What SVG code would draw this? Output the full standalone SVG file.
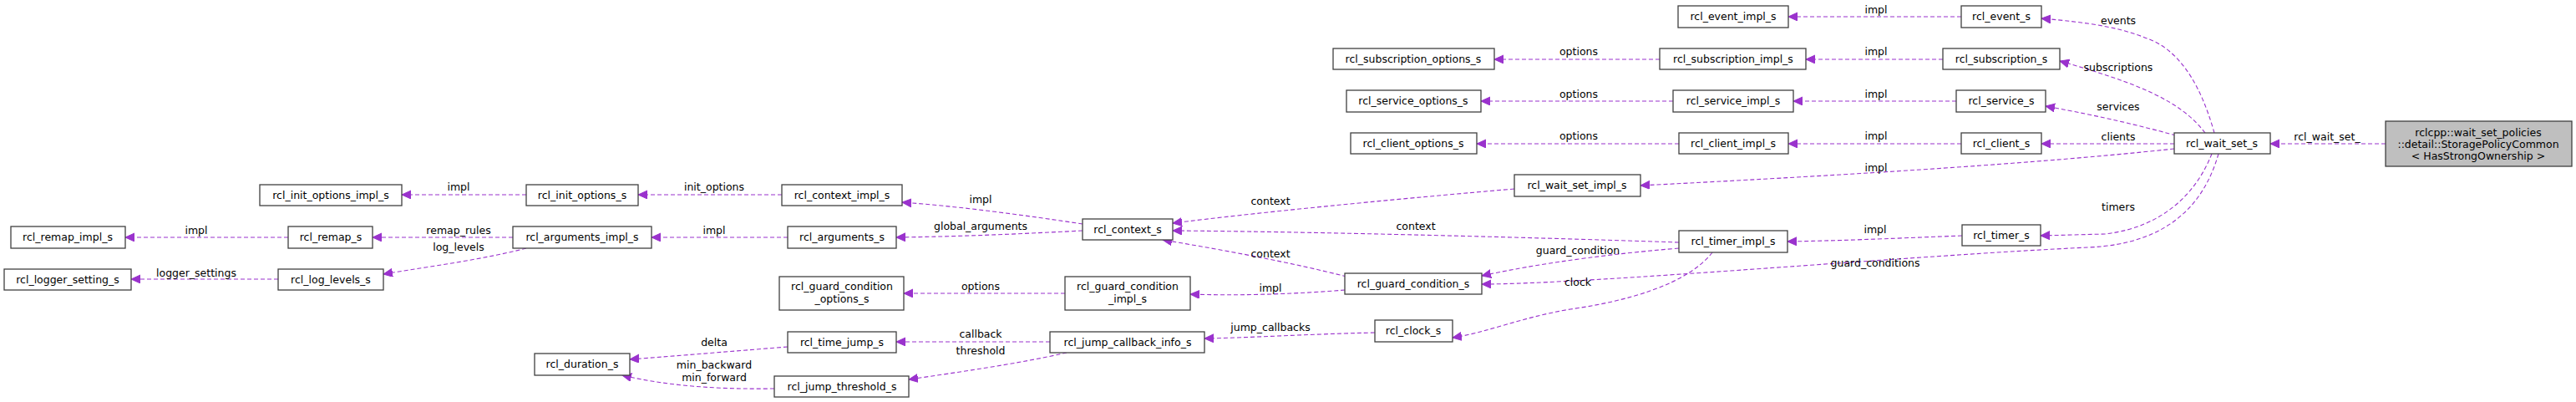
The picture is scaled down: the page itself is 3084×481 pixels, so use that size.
<svg xmlns="http://www.w3.org/2000/svg" width="3084" height="481" viewBox="0 0 3084 481">
<style>
text{font-family:"DejaVu Sans",sans-serif;font-size:12.5px;fill:#000;text-anchor:middle}
.n rect{fill:#fff;stroke:#404040;stroke-width:1.3}
.n rect.h{fill:#bfbfbf}
#edges path{fill:none;stroke:#9a32cd;stroke-width:1.1;stroke-dasharray:5,3;marker-end:url(#ah)}
</style>
<defs>
<marker id="ah" markerUnits="userSpaceOnUse" markerWidth="14" markerHeight="12" refX="11" refY="5" orient="auto">
<path d="M0,0 L11,5 L0,10 z" fill="#9a32cd" stroke="#9a32cd"/>
</marker>
</defs>
<rect width="3084" height="481" fill="#fff"/>
<g id="edges">
<path d="M2856,172 L2718,172"/><text x="2786" y="168">rcl_wait_set_</text>
<path d="M2651,159 C2640,120 2620,70 2580,50 C2540,32 2500,27 2444,22"/><text x="2536" y="29">events</text>
<path d="M2640,159 C2610,120 2560,100 2466,73"/><text x="2536" y="85">subscriptions</text>
<path d="M2605,162 C2560,150 2520,140 2449,127"/><text x="2536" y="132">services</text>
<path d="M2603,172 L2444,172"/><text x="2536" y="168">clients</text>
<path d="M2603,178 C2400,200 2100,215 1964,222"/><text x="2246" y="205">impl</text>
<path d="M2648,184 C2630,230 2590,272 2520,280 L2443,282"/><text x="2536" y="252">timers</text>
<path d="M2656,184 C2640,240 2600,292 2500,296 C2300,305 1900,340 1774,340"/><text x="2245" y="319">guard_conditions</text>
<path d="M2348,20 L2141,20"/><text x="2246" y="16">impl</text>
<path d="M2326,71 L2162,71"/><text x="2246" y="66">impl</text>
<path d="M1987,71 L1789,71"/><text x="1890" y="66">options</text>
<path d="M2342,121 L2147,121"/><text x="2246" y="117">impl</text>
<path d="M2003,121 L1773,121"/><text x="1890" y="117">options</text>
<path d="M2348,172 L2141,172"/><text x="2246" y="167">impl</text>
<path d="M2010,172 L1768,172"/><text x="1890" y="167">options</text>
<path d="M1813,226 C1650,240 1500,255 1404,267"/><text x="1521" y="245">context</text>
<path d="M2010,290 C1800,283 1550,277 1404,276"/><text x="1695" y="275">context</text>
<path d="M2010,297 C1900,306 1820,320 1774,330"/><text x="1889" y="304">guard_condition</text>
<path d="M2050,302 C2020,340 1950,360 1880,370 C1820,380 1780,398 1739,404"/><text x="1889" y="342">clock</text>
<path d="M2349,282 C2250,286 2200,288 2140,289"/><text x="2245" y="279">impl</text>
<path d="M1612,331 C1550,315 1470,300 1392,287"/><text x="1521" y="308">context</text>
<path d="M1610,347 C1550,352 1480,354 1425,352"/><text x="1521" y="349">impl</text>
<path d="M1275,351 L1082,351"/><text x="1174" y="347">options</text>
<path d="M1646,398 C1560,400 1500,404 1442,405"/><text x="1521" y="396">jump_callbacks</text>
<path d="M1257,409 L1073,409"/><text x="1174" y="404">callback</text>
<path d="M1277,422 C1220,435 1150,445 1088,454"/><text x="1174" y="424">threshold</text>
<path d="M943,415 C880,420 820,425 754,430"/><text x="855" y="414">delta</text>
<path d="M927,465 C860,466 800,462 745,449"/><text x="855" y="441">min_backward</text><text x="855" y="456">min_forward</text>
<path d="M1296,268 C1230,258 1150,247 1080,242"/><text x="1174" y="243">impl</text>
<path d="M1296,276 C1220,280 1150,283 1073,284"/><text x="1174" y="275">global_arguments</text>
<path d="M936,233 L764,233"/><text x="855" y="228">init_options</text>
<path d="M630,233 L481,233"/><text x="549" y="228">impl</text>
<path d="M943,284 L780,284"/><text x="855" y="280">impl</text>
<path d="M614,284 L446,284"/><text x="549" y="280">remap_rules</text>
<path d="M630,297 C580,310 520,318 459,328"/><text x="549" y="300">log_levels</text>
<path d="M345,284 L150,284"/><text x="235" y="280">impl</text>
<path d="M333,334 L157,334"/><text x="235" y="331">logger_settings</text>
</g>
<g id="rclcpp" class="n"><rect class="h" x="2856" y="145" width="223" height="54"/><text x="2967" y="163">rclcpp::wait_set_policies</text><text x="2967" y="177">::detail::StoragePolicyCommon</text><text x="2967" y="191">&lt; HasStrongOwnership &gt;</text></g>
<g id="rcl_wait_set_s" class="n"><rect x="2603" y="159" width="115" height="25"/><text x="2660" y="176">rcl_wait_set_s</text></g>
<g id="rcl_event_s" class="n"><rect x="2348" y="7" width="96" height="26"/><text x="2396" y="24">rcl_event_s</text></g>
<g id="rcl_subscription_s" class="n"><rect x="2326" y="58" width="140" height="25"/><text x="2396" y="75">rcl_subscription_s</text></g>
<g id="rcl_service_s" class="n"><rect x="2342" y="108" width="107" height="26"/><text x="2396" y="125">rcl_service_s</text></g>
<g id="rcl_client_s" class="n"><rect x="2348" y="159" width="96" height="25"/><text x="2396" y="176">rcl_client_s</text></g>
<g id="rcl_timer_s" class="n"><rect x="2349" y="269" width="94" height="25"/><text x="2396" y="286">rcl_timer_s</text></g>
<g id="rcl_event_impl_s" class="n"><rect x="2009" y="7" width="132" height="26"/><text x="2075" y="24">rcl_event_impl_s</text></g>
<g id="rcl_subscription_impl_s" class="n"><rect x="1987" y="58" width="175" height="25"/><text x="2075" y="75">rcl_subscription_impl_s</text></g>
<g id="rcl_service_impl_s" class="n"><rect x="2003" y="108" width="144" height="26"/><text x="2075" y="125">rcl_service_impl_s</text></g>
<g id="rcl_client_impl_s" class="n"><rect x="2010" y="159" width="131" height="25"/><text x="2075" y="176">rcl_client_impl_s</text></g>
<g id="rcl_timer_impl_s" class="n"><rect x="2010" y="276" width="130" height="26"/><text x="2075" y="293">rcl_timer_impl_s</text></g>
<g id="rcl_subscription_options_s" class="n"><rect x="1596" y="58" width="193" height="25"/><text x="1692" y="75">rcl_subscription_options_s</text></g>
<g id="rcl_service_options_s" class="n"><rect x="1612" y="108" width="161" height="26"/><text x="1692" y="125">rcl_service_options_s</text></g>
<g id="rcl_client_options_s" class="n"><rect x="1617" y="159" width="151" height="25"/><text x="1692" y="176">rcl_client_options_s</text></g>
<g id="rcl_wait_set_impl_s" class="n"><rect x="1813" y="209" width="151" height="26"/><text x="1888" y="226">rcl_wait_set_impl_s</text></g>
<g id="rcl_guard_condition_s" class="n"><rect x="1610" y="327" width="164" height="25"/><text x="1692" y="344">rcl_guard_condition_s</text></g>
<g id="rcl_clock_s" class="n"><rect x="1646" y="383" width="93" height="26"/><text x="1692" y="400">rcl_clock_s</text></g>
<g id="rcl_context_s" class="n"><rect x="1296" y="262" width="108" height="25"/><text x="1350" y="279">rcl_context_s</text></g>
<g id="rcl_guard_condition_impl_s" class="n"><rect x="1275" y="331" width="150" height="40"/><text x="1350" y="347">rcl_guard_condition</text><text x="1350" y="362">_impl_s</text></g>
<g id="rcl_jump_callback_info_s" class="n"><rect x="1257" y="397" width="185" height="25"/><text x="1350" y="414">rcl_jump_callback_info_s</text></g>
<g id="rcl_context_impl_s" class="n"><rect x="936" y="221" width="144" height="25"/><text x="1008" y="238">rcl_context_impl_s</text></g>
<g id="rcl_arguments_s" class="n"><rect x="943" y="271" width="130" height="26"/><text x="1008" y="288">rcl_arguments_s</text></g>
<g id="rcl_guard_condition_options_s" class="n"><rect x="933" y="331" width="149" height="40"/><text x="1008" y="347">rcl_guard_condition</text><text x="1008" y="362">_options_s</text></g>
<g id="rcl_time_jump_s" class="n"><rect x="943" y="397" width="130" height="25"/><text x="1008" y="414">rcl_time_jump_s</text></g>
<g id="rcl_jump_threshold_s" class="n"><rect x="927" y="450" width="161" height="25"/><text x="1008" y="467">rcl_jump_threshold_s</text></g>
<g id="rcl_init_options_s" class="n"><rect x="630" y="221" width="134" height="25"/><text x="697" y="238">rcl_init_options_s</text></g>
<g id="rcl_arguments_impl_s" class="n"><rect x="614" y="271" width="166" height="26"/><text x="697" y="288">rcl_arguments_impl_s</text></g>
<g id="rcl_duration_s" class="n"><rect x="640" y="423" width="114" height="26"/><text x="697" y="440">rcl_duration_s</text></g>
<g id="rcl_init_options_impl_s" class="n"><rect x="311" y="221" width="170" height="25"/><text x="396" y="238">rcl_init_options_impl_s</text></g>
<g id="rcl_remap_s" class="n"><rect x="345" y="271" width="101" height="26"/><text x="396" y="288">rcl_remap_s</text></g>
<g id="rcl_log_levels_s" class="n"><rect x="333" y="322" width="126" height="25"/><text x="396" y="339">rcl_log_levels_s</text></g>
<g id="rcl_remap_impl_s" class="n"><rect x="13" y="271" width="137" height="26"/><text x="81" y="288">rcl_remap_impl_s</text></g>
<g id="rcl_logger_setting_s" class="n"><rect x="5" y="322" width="152" height="25"/><text x="81" y="339">rcl_logger_setting_s</text></g>
</svg>
